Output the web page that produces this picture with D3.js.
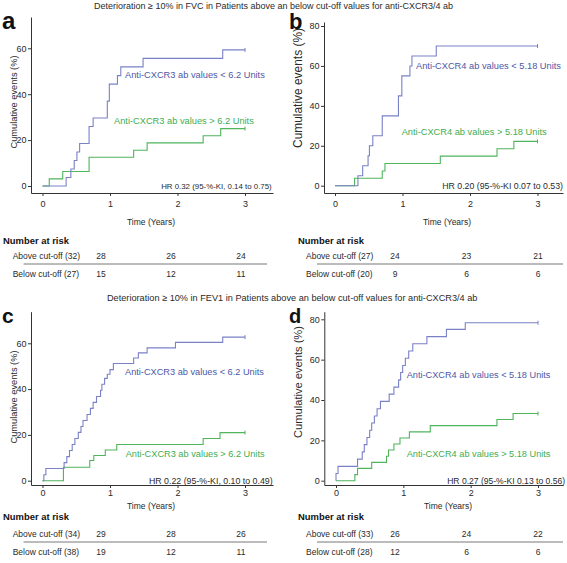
<!DOCTYPE html>
<html><head><meta charset="utf-8">
<script src="https://cdn.jsdelivr.net/npm/d3@7"></script>
<style>
body{margin:0;background:#fff;}
svg text{font-family:"Liberation Sans",Arial,sans-serif;}
</style></head><body>
<svg id="chart" width="567" height="563"></svg>
<script>
// ---------------- data ----------------
const timeTicks = [0, 1, 2, 3];
const yTicksCxcr3 = [0, 20, 40, 60];
const yTicksCxcr4 = [0, 20, 40, 60, 80];
const riskTimes = [1, 2, 3];

// panel a: FVC, anti-CXCR3
const fvcCxcr3Below = [[0,0],[0.35,3.7],[0.42,7.4],[0.47,11.1],[0.51,14.8],[0.55,18.5],[0.69,25.9],[0.75,29.6],[0.96,37.0],[0.99,44.4],[1.11,48.1],[1.16,51.9],[1.49,55.6],[2.67,59.3],[3.0,59.3]];
const fvcCxcr3Above = [[0,0],[0.10,3.1],[0.30,6.3],[0.69,12.5],[1.35,15.6],[1.55,18.8],[2.38,21.9],[2.64,25.0],[3.0,25.0]];
// panel b: FVC, anti-CXCR4
const fvcCxcr4Below = [[0,0],[0.34,5],[0.41,10],[0.49,15],[0.51,20],[0.56,25],[0.70,35],[0.94,45],[0.99,55],[1.11,60],[1.14,65],[1.50,70],[3.0,70]];
const fvcCxcr4Above = [[0,0],[0.29,3.7],[0.70,7.4],[0.74,11.1],[1.56,14.8],[2.40,18.5],[2.65,22.2],[3.0,22.2]];
// panel c: FEV1, anti-CXCR3
const fev1Cxcr3Below = [[0,0],[0.02,2.6],[0.05,5.3],[0.32,7.9],[0.36,10.5],[0.40,13.2],[0.44,15.8],[0.48,18.4],[0.53,21.1],[0.57,23.7],[0.60,26.3],[0.66,28.9],[0.71,31.6],[0.75,34.2],[0.80,36.8],[0.86,39.5],[0.88,42.1],[0.92,44.7],[0.96,46.5],[1.00,48.5],[1.05,51.2],[1.35,53.6],[1.42,55.8],[1.55,58.0],[1.97,60.4],[2.67,62.7],[3.0,62.7]];
const fev1Cxcr3Above = [[0,0],[0.31,5.9],[0.70,8.8],[0.76,11.0],[0.93,13.4],[1.10,15.8],[2.38,18.4],[2.63,21.0],[3.0,21.0]];
// panel d: FEV1, anti-CXCR4
const fev1Cxcr4Below = [[0,0],[0.00,3.6],[0.03,7.1],[0.32,10.7],[0.39,14.3],[0.42,17.9],[0.46,21.4],[0.50,25.0],[0.53,28.6],[0.57,32.1],[0.61,35.7],[0.66,39.3],[0.79,42.9],[0.86,46.4],[0.93,50.0],[0.96,53.6],[0.99,57.1],[1.03,60.7],[1.08,64.3],[1.14,67.9],[1.35,71.4],[1.64,75.0],[1.92,78.3],[3.0,78.3]];
const fev1Cxcr4Above = [[0,0],[0.28,3.0],[0.32,6.1],[0.53,9.1],[0.75,12.1],[0.78,15.2],[0.86,18.2],[0.95,21.2],[1.09,24.2],[1.40,27.3],[2.39,30.3],[2.63,33.3],[3.0,33.3]];

// numbers at risk
const riskFvcCxcr3Above = [28, 26, 24], riskFvcCxcr3Below = [15, 12, 11];
const riskFvcCxcr4Above = [24, 23, 21], riskFvcCxcr4Below = [9, 6, 6];
const riskFev1Cxcr3Above = [29, 28, 26], riskFev1Cxcr3Below = [19, 12, 11];
const riskFev1Cxcr4Above = [26, 24, 22], riskFev1Cxcr4Below = [12, 6, 6];

const titles = ["Deterioration \u2265 10% in FVC in Patients above an below cut-off values for anti-CXCR3/4 ab",
                "Deterioration \u2265 10% in FEV1 in Patients above an below cut-off values for anti-CXCR3/4 ab"];

// ---------------- drawing ----------------
const BLUE_LINE = "#7a81c6", BLUE_TEXT = "#4e58a6", GREEN_LINE = "#4fb45c", GREEN_TEXT = "#40ad50", INK = "#2a2a2a";
const svg = d3.select("#chart");

function fit(sel, w) {
  const cur = sel.node().getComputedTextLength();
  const fs = parseFloat(sel.attr("font-size"));
  sel.attr("font-size", (fs * w / cur).toFixed(2));
  return sel;
}

const panels = [
  {letter:"a", lx:2, ly:28.5, lfs:24, x0:42.5, x3:245, axL:31, axR:273, y0:186, yRefV:60, yRef:48.3, top:17, bottom:193,
   yTicks:yTicksCxcr3, below:fvcCxcr3Below, above:fvcCxcr3Above,
   blueLab:["Anti-CXCR3 ab values < 6.2 Units",125,75,140], greenLab:["Anti-CXCR3 ab values > 6.2 Units",114,120.7,140],
   hr:["HR 0.32 (95-%-KI, 0.14 to 0.75)",271.7,186,110.7], ylab:[14,102,93],
   tickLabY:204, timeY:222, narY:241, row1Y:256, sepY:264, row2Y:274, tabX:3, rowX:12.7, colA:101, colB:241, sepL:23.5, sepR:267,
   riskA:riskFvcCxcr3Above, riskB:riskFvcCxcr3Below, nA:"Above cut-off (32)", nB:"Below cut-off (27)", timeX:151},
  {letter:"b", lx:289, ly:28.5, lfs:22, x0:335, x3:537.5, axL:324, axR:563, y0:185.7, yRefV:80, yRef:26, top:22, bottom:193,
   yTicks:yTicksCxcr4, below:fvcCxcr4Below, above:fvcCxcr4Above,
   blueLab:["Anti-CXCR4 ab values < 5.18 Units",416,65.7,145], greenLab:["Anti-CXCR4 ab values > 5.18 Units",401.7,131.7,145],
   hr:["HR 0.20 (95-%-KI 0.07 to 0.53)",563,186,121], ylab:[297.7,88,120],
   tickLabY:204, timeY:222, narY:241, row1Y:256, sepY:264, row2Y:274, tabX:298, rowX:306, colA:395, colB:538, sepL:317, sepR:563,
   riskA:riskFvcCxcr4Above, riskB:riskFvcCxcr4Below, nA:"Above cut-off (27)", nB:"Below cut-off (20)", timeX:447},
  {letter:"c", lx:2, ly:323, lfs:21, x0:42.5, x3:245, axL:31, axR:273, y0:480.7, yRefV:60, yRef:343.3, top:311.7, bottom:485,
   yTicks:yTicksCxcr3, below:fev1Cxcr3Below, above:fev1Cxcr3Above,
   blueLab:["Anti-CXCR3 ab values < 6.2 Units",125,371.7,139], greenLab:["Anti-CXCR3 ab values > 6.2 Units",125.7,453.3,139],
   hr:["HR 0.22 (95-%-KI, 0.10 to 0.49)",272.7,481,123.7], ylab:[13.5,397,93],
   tickLabY:493, timeY:506, narY:517, row1Y:534, sepY:542, row2Y:552, tabX:3, rowX:12.7, colA:101, colB:241, sepL:23.5, sepR:267,
   riskA:riskFev1Cxcr3Above, riskB:riskFev1Cxcr3Below, nA:"Above cut-off (34)", nB:"Below cut-off (38)", timeX:151},
  {letter:"d", lx:289, ly:323, lfs:20, x0:336, x3:538, axL:324.3, axR:563, y0:480.7, yRefV:80, yRef:319.3, top:311.7, bottom:485,
   yTicks:yTicksCxcr4, below:fev1Cxcr4Below, above:fev1Cxcr4Above,
   blueLab:["Anti-CXCR4 ab values < 5.18 Units",406.7,374.3,144], greenLab:["Anti-CXCR4 ab values > 5.18 Units",406.7,453.3,144],
   hr:["HR 0.27 (95-%-KI 0.13 to 0.56)",565,481,118], ylab:[297.7,382,112],
   tickLabY:493, timeY:506, narY:517, row1Y:534, sepY:542, row2Y:552, tabX:298, rowX:306, colA:395, colB:538, sepL:317, sepR:563,
   riskA:riskFev1Cxcr4Above, riskB:riskFev1Cxcr4Below, nA:"Above cut-off (33)", nB:"Below cut-off (28)", timeX:448}
];

// titles
fit(svg.append("text").attr("x",94).attr("y",8.5).attr("font-size",9).attr("fill",INK).text(titles[0]), 359);
fit(svg.append("text").attr("x",107).attr("y",300.5).attr("font-size",9).attr("fill",INK).text(titles[1]), 371);

panels.forEach(p => {
  const g = svg.append("g");
  const x = d3.scaleLinear().domain([0, 3]).range([p.x0, p.x3]);
  const y = d3.scaleLinear().domain([0, p.yRefV]).range([p.y0, p.yRef]);
  const xAx = d3.scaleLinear().domain([x.invert(p.axL), x.invert(p.axR)]).range([p.axL, p.axR]);
  const yAx = d3.scaleLinear().domain([y.invert(p.bottom), y.invert(p.top)]).range([p.bottom, p.top]);

  // axes
  const xa = g.append("g").attr("transform", `translate(0,${p.bottom})`)
    .call(d3.axisBottom(xAx).tickValues(timeTicks).tickSize(3).tickSizeOuter(0).tickPadding(2).tickFormat(d3.format("d")));
  xa.selectAll("text").attr("font-size", 9).attr("fill", INK).attr("dy", null)
    .attr("y", p.tickLabY - p.bottom).attr("dominant-baseline", "central");
  const ya = g.append("g").attr("transform", `translate(${p.axL},0)`)
    .call(d3.axisLeft(yAx).tickValues(p.yTicks).tickSize(3).tickSizeOuter(0).tickPadding(1.5).tickFormat(d3.format("d")));
  ya.selectAll("text").attr("font-size", 9).attr("fill", INK);
  [xa, ya].forEach(a => { a.selectAll("path,line").attr("stroke", "#333"); a.attr("font-family", null); a.select(".domain").attr("stroke-width", 1); });

  // y label
  fit(g.append("text").attr("transform", `translate(${p.ylab[0]},${p.ylab[1]}) rotate(-90)`)
    .attr("text-anchor", "middle").attr("dy", "0.35em").attr("font-size", 9).attr("fill", INK)
    .text("Cumulative events (%)"), p.ylab[2]);

  // curves
  const line = d3.line().x(d => x(d[0])).y(d => y(d[1])).curve(d3.curveStepAfter);
  [[p.above, GREEN_LINE], [p.below, BLUE_LINE]].forEach(([data, col]) => {
    g.append("path").datum(data).attr("d", line).attr("fill", "none").attr("stroke", col).attr("stroke-width", 1.1);
    const last = data[data.length - 1];
    g.append("line").attr("x1", x(last[0])).attr("x2", x(last[0]))
      .attr("y1", y(last[1]) - 2).attr("y2", y(last[1]) + 2).attr("stroke", col).attr("stroke-width", 1);
  });

  // series labels
  fit(g.append("text").attr("x", p.blueLab[1]).attr("y", p.blueLab[2]).attr("dy", "0.35em").attr("font-size", 9)
    .attr("fill", BLUE_TEXT).text(p.blueLab[0]), p.blueLab[3]);
  fit(g.append("text").attr("x", p.greenLab[1]).attr("y", p.greenLab[2]).attr("dy", "0.35em").attr("font-size", 9)
    .attr("fill", GREEN_TEXT).text(p.greenLab[0]), p.greenLab[3]);
  // HR
  fit(g.append("text").attr("x", p.hr[1]).attr("y", p.hr[2]).attr("dy", "0.35em").attr("text-anchor", "end")
    .attr("font-size", 8.5).attr("fill", INK).text(p.hr[0]), p.hr[3]);

  // panel letter
  g.append("text").attr("x", p.lx).attr("y", p.ly).attr("font-size", p.lfs).attr("font-weight", "bold").attr("fill", "#111").text(p.letter);

  // time title
  g.append("text").attr("x", p.timeX).attr("y", p.timeY).attr("dy", "0.35em").attr("text-anchor", "middle")
    .attr("font-size", 8.5).attr("fill", INK).text("Time (Years)");

  // number at risk table
  fit(g.append("text").attr("x", p.tabX).attr("y", p.narY).attr("dy", "0.35em").attr("font-size", 8.5).attr("font-weight", "bold")
    .attr("fill", "#111").text("Number at risk"), 66);
  const col = d3.scaleLinear().domain([1, 3]).range([p.colA, p.colB]);
  [[p.nA, p.riskA, p.row1Y], [p.nB, p.riskB, p.row2Y]].forEach(([lab, vals, yy]) => {
    g.append("text").attr("x", p.rowX).attr("y", yy).attr("dy", "0.35em").attr("font-size", 8.5).attr("fill", INK).text(lab);
    g.selectAll(null).data(vals).enter().append("text")
      .attr("x", (d, i) => col(riskTimes[i])).attr("y", yy).attr("dy", "0.35em").attr("text-anchor", "middle")
      .attr("font-size", 8.5).attr("fill", INK).text(d => d);
  });
  g.append("line").attr("x1", p.sepL).attr("x2", p.sepR).attr("y1", p.sepY).attr("y2", p.sepY).attr("stroke", "#555").attr("stroke-width", 0.8);
});
</script>
</body></html>
